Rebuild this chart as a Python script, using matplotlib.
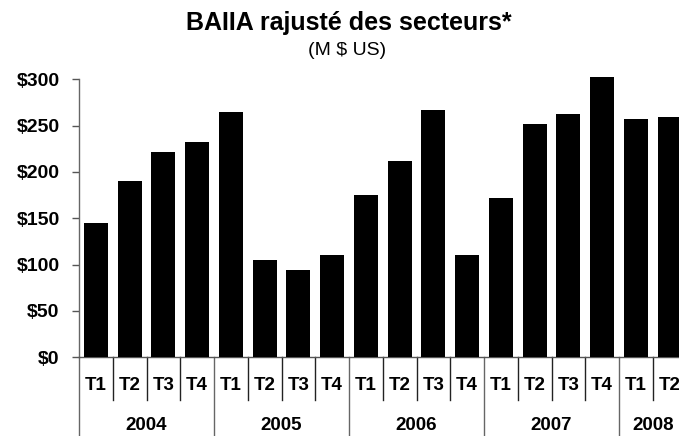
import matplotlib
matplotlib.use("Agg")
import matplotlib.pyplot as plt
import matplotlib.transforms as mtransforms

plt.rcParams['font.family'] = ['Liberation Sans', 'DejaVu Sans']

years = ['2004', '2005', '2006', '2007', '2008']
year_counts = [4, 4, 4, 4, 2]
quarters = ['T1', 'T2', 'T3', 'T4'] * 4 + ['T1', 'T2']
values = [145, 190, 222, 232,
          265, 105, 94, 110,
          175, 212, 267, 110,
          172, 252, 263, 303,
          257, 259]
yticks = [0, 50, 100, 150, 200, 250, 300]

W, H = 679, 436
fig = plt.figure(figsize=(W / 100, H / 100), dpi=100)
left, right = 79, 686.5
top, bottom = 79.3, 357.3
ax = fig.add_axes([left / W, 1 - bottom / H, (right - left) / W, (bottom - top) / H])

x = list(range(len(values)))
ax.bar(x, values, width=0.71, color='black', clip_on=False, zorder=3)
ax.set_xlim(-0.5, len(values) - 0.5)
ax.set_ylim(0, 300)
ax.set_yticks(yticks)
ax.set_yticklabels([f'${v}' for v in yticks], fontsize=14, fontweight='bold')
ax.tick_params(axis='y', direction='out', length=5, width=1, color='#555555', pad=9)
ax.set_xticks([])
for s in ['top', 'right']:
    ax.spines[s].set_visible(False)
ax.spines['left'].set_color('#666666')
ax.spines['bottom'].set_color('#555555')
ax.spines['left'].set_linewidth(1)
ax.spines['bottom'].set_linewidth(1)

trans = mtransforms.blended_transform_factory(ax.transData, ax.transAxes)
ax_h = bottom - top
short_end = -(400 - bottom) / ax_h
long_end = -(436 - bottom) / ax_h
q_y = -(385 - bottom) / ax_h
y_y = -(425 - bottom) / ax_h

# separators
starts = []
acc = 0
for c in year_counts:
    starts.append(acc)
    acc += c
for i in range(len(values) + 1):
    xs = i - 0.5
    if i in starts:
        ax.plot([xs, xs], [0, long_end], transform=trans, color='#666666', lw=1, clip_on=False)
    else:
        ax.plot([xs, xs], [0, short_end], transform=trans, color='#222222', lw=1, clip_on=False)

for i, q in enumerate(quarters):
    ax.text(i, q_y, q, transform=trans, ha='center', va='center', fontsize=13.5, fontweight='bold')

for s, c, yr in zip(starts, year_counts, years):
    ax.text(s + (c - 1) / 2, y_y, yr, transform=trans, ha='center', va='center', fontsize=13.5, fontweight='bold')

fig.text(348.5 / W, 1 - 30 / H, 'BAIIA rajusté des secteurs*', ha='center', va='baseline',
         fontsize=18, fontweight='bold')
fig.text(347 / W, 1 - 55 / H, '(M $ US)', ha='center', va='baseline', fontsize=14)

fig.savefig('out.png', dpi=100)
